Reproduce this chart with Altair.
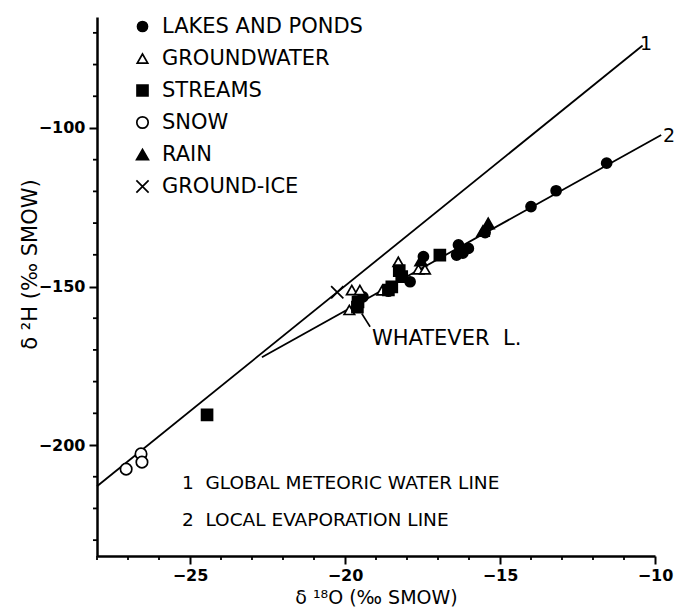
import altair as alt
import pandas as pd

# ---------------- data ----------------
types = ["LAKES AND PONDS", "GROUNDWATER", "STREAMS", "SNOW", "RAIN", "GROUND-ICE"]

lakes_x = [-19.42, -18.6, -17.9, -17.47, -16.34, -16.2, -16.02, -16.4, -15.48, -14.0, -13.19, -11.56]
lakes_y = [-153.3, -151.5, -148.5, -140.6, -136.9, -139.5, -138.0, -140.1, -133.0, -124.8, -119.8, -111.1]

gw_x = [-19.78, -19.52, -19.86, -18.8, -18.28, -17.63, -17.42]
gw_y = [-151.1, -151.1, -157.4, -151.2, -142.2, -144.6, -144.6]

streams_x = [-19.58, -19.6, -18.6, -18.49, -18.17, -18.25, -16.94, -24.45]
streams_y = [-154.9, -156.5, -151.1, -150.1, -146.9, -145.0, -140.1, -190.5]

snow_x = [-27.06, -26.58, -26.55]
snow_y = [-207.6, -202.8, -205.4]

rain_x = [-15.38, -15.55, -17.55]
rain_y = [-130.1, -132.5, -141.8]

ice_x = [-20.25]
ice_y = [-151.8]

# lines: 1 = global meteoric water line, 2 = local evaporation line
line_id = ["1", "1", "2", "2"]
line_x = [-28.0, -10.4, -22.68, -9.8]
line_y = [-213.0, -74.0, -172.3, -102.2]

# leader from cluster to "WHATEVER L."
lead_x = [-19.46, -19.19]
lead_y = [-158.5, -162.7]

left_text = ["WHATEVER\u00a0\u00a0L."]
left_x = [-19.13]
left_y = [-166.6]

bottom_text = ["1\u00a0\u00a0GLOBAL METEORIC WATER LINE", "2\u00a0\u00a0LOCAL EVAPORATION LINE"]
bottom_x = [-25.26, -25.26]
bottom_y = [-212.0, -223.7]

end_text = ["1", "2"]
end_x = [-10.29, -9.55]
end_y = [-73.5, -102.5]

x_major = [-25, -20, -15, -10]
x_minor = [v for v in range(-28, -10) if v % 5 != 0]
y_major = [-200, -150, -100]
y_minor = [v for v in range(-230, -69, 10) if v % 50 != 0]

# ---------------- tables ----------------
rows = []
for t, xv_list, yv_list in zip(types,
                               [lakes_x, gw_x, streams_x, snow_x, rain_x, ice_x],
                               [lakes_y, gw_y, streams_y, snow_y, rain_y, ice_y]):
    for xv, yv in zip(xv_list, yv_list):
        rows.append({"type": t, "x": xv, "y": yv})
pts = pd.DataFrame(rows)
lines = pd.DataFrame({"id": line_id, "x": line_x, "y": line_y})
lead = pd.DataFrame({"x": lead_x, "y": lead_y})
ltxt = pd.DataFrame({"t": left_text, "x": left_x, "y": left_y})
btxt = pd.DataFrame({"t": bottom_text, "x": bottom_x, "y": bottom_y})
etxt = pd.DataFrame({"t": end_text, "x": end_x, "y": end_y})
xmin_df = pd.DataFrame({"v": x_minor})
ymin_df = pd.DataFrame({"v": y_minor})

FONT = "DejaVu Sans"
W, H = 558, 539
xs = alt.Scale(domain=[-28, -10], nice=False, zero=False)
ys = alt.Scale(domain=[-235, -65], nice=False, zero=False)

xaxis = alt.Axis(
    values=x_major, tickSize=8,
    tickWidth=2, tickColor="black", domainWidth=2.5, domainColor="black",
    labelFont=FONT, labelFontSize=16, labelFontWeight="bold", labelColor="black",
    labelPadding=3, labelFlush=False, labelOverlap=False, grid=False,
    title="δ ¹⁸O (‰ SMOW)", titleFont=FONT, titleFontSize=19, titleFontWeight="normal",
    titleColor="black", titleX=279, titleY=41, titleBaseline="middle",
)
yaxis = alt.Axis(
    values=y_major, tickSize=8,
    tickWidth=2, tickColor="black", domainWidth=2.5, domainColor="black",
    labelFont=FONT, labelFontSize=16, labelFontWeight="bold", labelColor="black",
    labelPadding=4, labelFlush=False, labelOverlap=False, grid=False,
    title="δ ²H (‰ SMOW)", titleFont=FONT, titleFontSize=21, titleFontWeight="normal",
    titleColor="black", titleX=-67, titleY=247, titleAngle=-90,
    titleAlign="center", titleBaseline="middle",
)

line_layer = alt.Chart(lines).mark_line(color="black", strokeWidth=1.8).encode(
    x=alt.X("x:Q", scale=xs, axis=xaxis),
    y=alt.Y("y:Q", scale=ys, axis=yaxis),
    detail="id:N",
)

lead_layer = alt.Chart(lead).mark_line(color="black", strokeWidth=1.6).encode(
    x=alt.X("x:Q", scale=xs), y=alt.Y("y:Q", scale=ys)
)

# minor ticks drawn through the scales
xminor_layer = alt.Chart(xmin_df).mark_rule(color="black", strokeWidth=1.8).encode(
    x=alt.X("v:Q", scale=xs), y=alt.value(H), y2=alt.value(H + 4)
)
yminor_layer = alt.Chart(ymin_df).mark_rule(color="black", strokeWidth=1.8).encode(
    y=alt.Y("v:Q", scale=ys), x=alt.value(-4), x2=alt.value(0)
)

xpath = "M-1,-1L1,1M-1,1L1,-1"
pt_layer = alt.Chart(pts).mark_point(filled=False, opacity=1, strokeWidth=1.7).encode(
    x=alt.X("x:Q", scale=xs),
    y=alt.Y("y:Q", scale=ys),
    shape=alt.Shape("type:N", scale=alt.Scale(
        domain=types,
        range=["circle", "triangle-up", "square", "circle", "triangle-up", xpath])),
    fill=alt.Fill("type:N", scale=alt.Scale(
        domain=types, range=["black", "white", "black", "white", "black", "white"])),
    stroke=alt.Stroke("type:N", scale=alt.Scale(
        domain=types, range=["black"] * 6)),
    size=alt.Size("type:N", scale=alt.Scale(
        domain=types, range=[100, 150, 85, 55, 150, 90])),
)

left_layer = alt.Chart(ltxt).mark_text(align="left", baseline="middle", font=FONT, fontSize=21, color="black").encode(
    x=alt.X("x:Q", scale=xs), y=alt.Y("y:Q", scale=ys), text="t:N"
)
bottom_layer = alt.Chart(btxt).mark_text(align="left", baseline="middle", font=FONT, fontSize=18.5, color="black").encode(
    x=alt.X("x:Q", scale=xs), y=alt.Y("y:Q", scale=ys), text="t:N"
)
end_layer = alt.Chart(etxt).mark_text(align="center", baseline="middle", font=FONT, fontSize=19, color="black").encode(
    x=alt.X("x:Q", scale=xs), y=alt.Y("y:Q", scale=ys), text="t:N"
)

chart = alt.layer(line_layer, lead_layer, xminor_layer, yminor_layer, pt_layer,
                  left_layer, bottom_layer, end_layer).properties(
    width=W, height=H,
    autosize=alt.AutoSizeParams(type="none"),
    padding={"left": 89, "top": 9, "right": 22, "bottom": 53},
).configure_view(stroke=None).configure_legend(
    title=None, orient="none", legendX=35, legendY=-1,
    labelFont=FONT, labelFontSize=21, labelColor="black", labelLimit=400,
    rowPadding=10, labelOffset=9, padding=0,
    symbolStrokeWidth=1.7,
)

chart.save("out.html", embed_options={"renderer": "svg", "actions": False})
